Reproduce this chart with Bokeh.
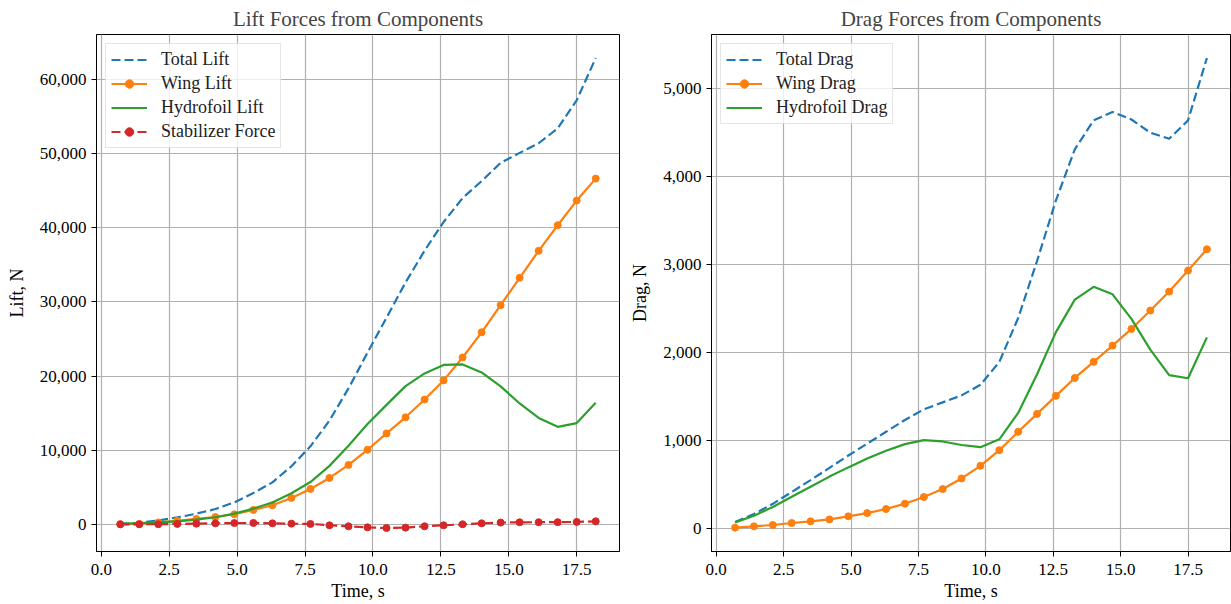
from bokeh.plotting import figure
from bokeh.layouts import row
from bokeh.models import Range1d, FixedTicker, NumeralTickFormatter, Legend, LegendItem
from bokeh.embed import file_html
from bokeh.resources import INLINE

# ---------------- data ----------------
time_s = [0.7, 1.4, 2.1, 2.8, 3.5, 4.2, 4.9, 5.6, 6.3, 7.0, 7.7, 8.4, 9.1,
          9.8, 10.5, 11.2, 11.9, 12.6, 13.3, 14.0, 14.7, 15.4, 16.1, 16.8, 17.5, 18.2]

total_lift = [70, 200, 520, 930, 1430, 2060, 2960, 4230, 5650, 7830, 10520, 13990, 18330,
              23170, 27870, 32620, 36910, 40770, 44000, 46300, 48750, 50100, 51400, 53400, 57200, 62900]
wing_lift = [10, 50, 250, 480, 720, 980, 1350, 1940, 2570, 3560, 4770, 6250, 8010,
             10050, 12260, 14430, 16830, 19410, 22500, 25900, 29560, 33250, 36890, 40340, 43670, 46630]
hydro_lift = [60, 150, 260, 400, 620, 950, 1440, 2110, 2950, 4180, 5700, 7880, 10590,
              13530, 16110, 18640, 20350, 21500, 21560, 20480, 18600, 16300, 14350, 13150, 13650, 16380]
stab_force = [0, 0, 10, 50, 90, 130, 170, 180, 130, 90, 50, -140, -270,
              -410, -500, -450, -270, -140, 0, 130, 230, 270, 280, 290, 320, 400]

total_drag = [68, 160, 275, 410, 545, 685, 825, 960, 1095, 1230, 1350, 1430, 1510,
              1630, 1890, 2390, 3040, 3730, 4310, 4640, 4735, 4650, 4500, 4430, 4640, 5350]
wing_drag = [4, 19, 34, 57, 76, 98, 133, 170, 216, 277, 352, 443, 564,
             708, 886, 1095, 1299, 1504, 1708, 1891, 2076, 2266, 2475, 2691, 2930, 3173]
hydro_drag = [64, 140, 240, 355, 470, 585, 690, 790, 880, 955, 1000, 985, 945,
              920, 1010, 1310, 1750, 2230, 2600, 2745, 2660, 2380, 2030, 1740, 1705, 2170]

x_ticks = [0.0, 2.5, 5.0, 7.5, 10.0, 12.5, 15.0, 17.5]
lift_ticks = [0, 10000, 20000, 30000, 40000, 50000, 60000]
drag_ticks = [0, 1000, 2000, 3000, 4000, 5000]

BLUE, ORANGE, GREEN, RED = "#1f77b4", "#ff7f0e", "#2ca02c", "#d62728"
FONT = "Liberation Serif"
LW = 2.2


def make_fig(title, ylabel, yticks, yr, width, left, right):
    p = figure(width=width, height=604, output_backend="svg", toolbar_location=None,
               x_range=Range1d(-0.175, 19.075), y_range=Range1d(*yr),
               min_border_left=left, min_border_right=right, min_border_top=0,
               min_border_bottom=53)
    p.title.text = title
    p.title.text_font = FONT
    p.title.text_font_size = "21px"
    p.title.text_font_style = "normal"
    p.title.align = "center"
    p.title.standoff = 8
    p.outline_line_color = "black"
    p.outline_line_width = 1
    for ax in (p.xaxis[0], p.yaxis[0]):
        ax.axis_line_color = "black"
        ax.major_tick_line_color = "black"
        ax.major_tick_out = 5
        ax.major_tick_in = 0
        ax.minor_tick_line_color = None
        ax.major_label_text_font = FONT
        ax.major_label_text_font_size = "17px"
        ax.major_label_text_color = "black"
        ax.axis_label_text_font = FONT
        ax.axis_label_text_font_size = "18px"
        ax.axis_label_text_font_style = "normal"
        ax.axis_label_text_color = "black"
    p.xaxis.ticker = FixedTicker(ticks=x_ticks)
    p.xaxis.formatter = NumeralTickFormatter(format="0.0")
    p.xaxis.axis_label = "Time, s"
    p.xaxis.major_label_standoff = 7
    p.xaxis.axis_label_standoff = 3
    p.yaxis.ticker = FixedTicker(ticks=yticks)
    p.yaxis.formatter = NumeralTickFormatter(format="0,0")
    p.yaxis.axis_label = ylabel
    p.yaxis.major_label_standoff = 5
    p.yaxis.axis_label_standoff = 10
    p.grid.grid_line_color = "#b0b0b0"
    p.grid.grid_line_width = 1.2
    return p


def add_legend(p, items):
    lg = Legend(items=items, location="top_left")
    lg.label_text_font = FONT
    lg.label_text_font_size = "18px"
    lg.label_text_color = "#222222"
    lg.glyph_width = 36
    lg.glyph_height = 21
    lg.label_height = 21
    lg.spacing = 3
    lg.padding = 5
    lg.margin = 9
    lg.label_standoff = 14
    lg.border_line_color = "#cccccc"
    lg.border_line_width = 1
    lg.background_fill_alpha = 0.8
    p.add_layout(lg)


# ---------------- Lift ----------------
lo, hi = min(stab_force), max(total_lift)
pad = 0.05 * (hi - lo)
p1 = make_fig("Lift Forces from Components", "Lift, N", lift_ticks, (lo - pad, hi + pad), 627, 96, 8)
r_tot = p1.line(time_s, total_lift, line_color=BLUE, line_width=LW, line_dash="9 4")
r_wl = p1.line(time_s, wing_lift, line_color=ORANGE, line_width=LW)
r_wm = p1.scatter(time_s, wing_lift, size=7, color=ORANGE)
r_hy = p1.line(time_s, hydro_lift, line_color=GREEN, line_width=LW)
r_sl = p1.line(time_s, stab_force, line_color=RED, line_width=LW, line_dash="9 4")
r_sm = p1.scatter(time_s, stab_force, size=7, color=RED)
add_legend(p1, [
    LegendItem(label="Total Lift", renderers=[r_tot]),
    LegendItem(label="Wing Lift", renderers=[r_wl, r_wm]),
    LegendItem(label="Hydrofoil Lift", renderers=[r_hy]),
    LegendItem(label="Stabilizer Force", renderers=[r_sl, r_sm]),
])

# ---------------- Drag ----------------
lo2, hi2 = 0, max(total_drag)
pad2 = 0.05 * (hi2 - lo2)
p2 = make_fig("Drag Forces from Components", "Drag, N", drag_ticks, (lo2 - pad2, hi2 + pad2), 604, 78, 1)
d_tot = p2.line(time_s, total_drag, line_color=BLUE, line_width=LW, line_dash="9 4")
d_wl = p2.line(time_s, wing_drag, line_color=ORANGE, line_width=LW)
d_wm = p2.scatter(time_s, wing_drag, size=7, color=ORANGE)
d_hy = p2.line(time_s, hydro_drag, line_color=GREEN, line_width=LW)
add_legend(p2, [
    LegendItem(label="Total Drag", renderers=[d_tot]),
    LegendItem(label="Wing Drag", renderers=[d_wl, d_wm]),
    LegendItem(label="Hydrofoil Drag", renderers=[d_hy]),
])

layout = row(p1, p2, spacing=0)
open("out.html", "w").write(file_html(layout, INLINE))
